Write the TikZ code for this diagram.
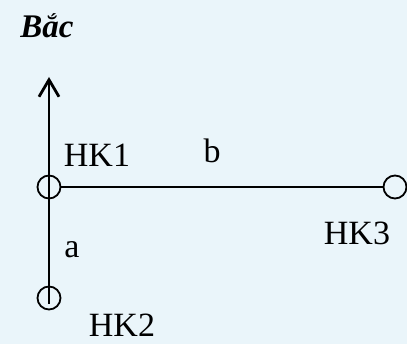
\documentclass[tikz,border=0pt]{standalone}
\usepackage{fontspec}
\setmainfont{Liberation Serif}
\usetikzlibrary{arrows.meta}
\definecolor{bg}{RGB}{234,245,250}
\begin{document}
\begin{tikzpicture}[x=1pt,y=-1pt,
  station/.style={circle,draw,line width=1.8pt,minimum size=23pt,inner sep=0pt},
  lbl/.style={anchor=base,inner sep=0pt,font=\fontsize{34}{34}\selectfont},
  axis/.style={line width=2.8pt}]
\fill[bg] (0,0) rectangle (407,344);
\useasboundingbox (0,0) rectangle (407,344);
\node[lbl,font=\fontsize{33}{33}\selectfont\bfseries\itshape] (north) at (47,38) {Bắc};
\node[station] (HK1) at (49,187) {};
\node[station] (HK2) at (49,298) {};
\node[station] (HK3) at (395,187) {};
\coordinate (tip) at (49,77);
\coordinate (bottom) at (49,304);
\draw[axis,-{Straight Barb[length=17pt,width=20pt,line width=2.8pt]}] (bottom) -- (tip);
\draw[axis] (HK1.east) -- (HK3.west);
\node[lbl] (l1) at (97,167) {HK1};
\node[lbl] (lb) at (212,163) {b};
\node[lbl] (la) at (72,258) {a};
\node[lbl] (l3) at (357,245) {HK3};
\node[lbl] (l2) at (122,337) {HK2};
\end{tikzpicture}
\end{document}
